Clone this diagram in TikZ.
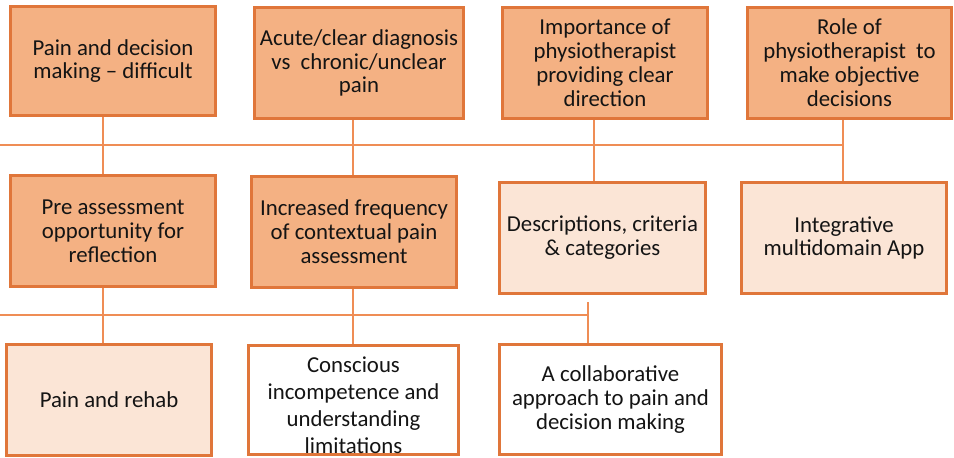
\documentclass[tikz,border=0pt]{standalone}
\usepackage{fontspec}
\setmainfont{Carlito}
\definecolor{boxborder}{HTML}{E0763A}
\definecolor{darkfill}{HTML}{F4B183}
\definecolor{lightfill}{HTML}{FBE5D6}
\definecolor{linkcol}{HTML}{EF8D55}
\definecolor{txt}{HTML}{141414}
\begin{document}
\begin{tikzpicture}[x=1pt,y=-1pt,
  box/.style={draw=boxborder, line width=3pt, rectangle, align=center, text=txt,
    font=\fontsize{22.8}{23.9}\selectfont, inner sep=0pt},
  darkbox/.style={box, fill=darkfill},
  lightbox/.style={box, fill=lightfill},
  whitebox/.style={box, fill=white},
  link/.style={draw=linkcol, line width=1.6pt}]
\useasboundingbox (0,0) rectangle (954,458);
% coordinates for connector columns and bus lines
\coordinate (c1) at (103,145);
\coordinate (c2) at (353,145);
\coordinate (c3) at (594,145);
\coordinate (c4) at (843,145);
\coordinate (h1s) at (0,145);
\coordinate (h2s) at (0,315);
\coordinate (c5) at (588,315);
% connectors (drawn first, boxes on top)
\draw[link] (h1s) -- (c4);
\draw[link] (h2s) -- (c5);
% row 1
\node[darkbox, minimum width=205, minimum height=109] (b1) at (113,61) {Pain and decision\\making – difficult};
\node[darkbox, minimum width=209, minimum height=111] (b2) at (359,63) {Acute/clear diagnosis\\vs\ \ chronic/unclear\\pain};
\node[darkbox, minimum width=205, minimum height=111] (b3) at (605,63) {Importance of\\physiotherapist\\providing clear\\direction};
\node[darkbox, minimum width=204, minimum height=111] (b4) at (849.5,63) {Role of\\physiotherapist\ \ to\\make objective\\decisions};
% row 2
\node[darkbox, minimum width=205, minimum height=111] (b5) at (113,231) {Pre assessment\\opportunity for\\reflection};
\node[darkbox, minimum width=205, minimum height=111] (b6) at (354,232) {Increased frequency\\of contextual pain\\assessment};
\node[lightbox, minimum width=206, minimum height=111] (b7) at (602.5,238) {Descriptions, criteria\\\& categories};
\node[lightbox, minimum width=205, minimum height=111] (b8) at (844,238) {Integrative\\multidomain App};
% row 3
\node[lightbox, minimum width=205, minimum height=111] (b9) at (109,400) {Pain and rehab};
\node[whitebox, minimum width=210, minimum height=109] (b10) at (353.5,400) {};
\node[align=center, text=txt, font=\fontsize{22.8}{27}\selectfont, inner sep=0pt] (t10) at (353.5,405) {Conscious\\incompetence and\\understanding\\limitations};
\node[whitebox, minimum width=222, minimum height=110] (b11) at (610.5,399.5) {A collaborative\\approach to pain and\\decision making};
% vertical connectors
\draw[link] (c1 |- b1.south) -- (c1 |- b5.north);
\draw[link] (c2 |- b2.south) -- (c2 |- b6.north);
\draw[link] (c3 |- b3.south) -- (c3 |- b7.north);
\draw[link] (c4 |- b4.south) -- (c4 |- b8.north);
\draw[link] (c1 |- b5.south) -- (c1 |- b9.north);
\draw[link] (c2 |- b6.south) -- (c2 |- b10.north);
\draw[link] ([yshift=-7pt]c5 |- b7.south) -- (c5 |- b11.north);
\end{tikzpicture}
\end{document}
